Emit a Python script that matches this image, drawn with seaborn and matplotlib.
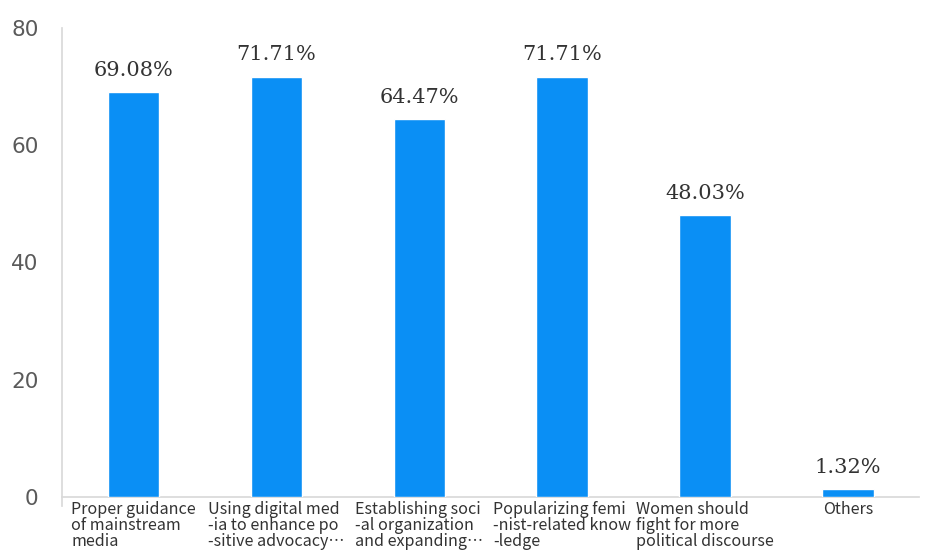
import matplotlib
matplotlib.use("Agg")
import matplotlib.pyplot as plt
import seaborn as sns
import pandas as pd

categories = [
    "Proper guidance\nof mainstream\nmedia",
    "Using digital med\n-ia to enhance po\n-sitive advocacy\u22ef",
    "Establishing soci\n-al organization\nand expanding\u22ef",
    "Popularizing femi\n-nist-related know\n-ledge",
    "Women should\nfight for more\npolitical discourse",
    "Others",
]
values = [69.08, 71.71, 64.47, 71.71, 48.03, 1.32]
value_labels = ["69.08%", "71.71%", "64.47%", "71.71%", "48.03%", "1.32%"]
y_ticks = [0, 20, 40, 60, 80]

sns.set_theme(style="white")
plt.rcParams["font.family"] = ["DejaVu Sans"]

df = pd.DataFrame({"cat": categories, "val": values})

fig = plt.figure(figsize=(9.28, 5.6), dpi=100)
ax = fig.add_axes([0.0668, 0.1125, 0.924, 0.8375])

sns.barplot(data=df, x="cat", y="val", color="#0a8ff5", saturation=1,
            width=0.36, ax=ax, zorder=3)

ax.set_ylim(0, 80)
ax.set_xlim(-0.5, len(categories) - 0.5)
ax.set_xlabel("")
ax.set_ylabel("")

# y axis
ax.set_yticks(y_ticks)
ax.set_yticklabels([str(t) for t in y_ticks], fontsize=15.5, color="#5a5a5a")
ax.tick_params(axis="y", length=0, pad=17)

# category boundaries as major ticks, labels at minor ticks
n = len(categories)
ax.set_xticks([i - 0.5 for i in range(n + 1)])
ax.set_xticklabels([""] * (n + 1))
ax.tick_params(axis="x", which="major", length=12, width=1, color="#d9d9d9")
ax.set_xticks(list(range(n)), minor=True)
ax.set_xticklabels(categories, minor=True, fontsize=11.6, color="#333333",
                   family=["Noto Sans CJK SC", "DejaVu Sans"], weight="medium",
                   linespacing=0.92, va="top", ha="center", multialignment="left")
ax.tick_params(axis="x", which="minor", length=0, pad=3)

for side in ["top", "right"]:
    ax.spines[side].set_visible(False)
ax.spines["left"].set_color("#d9d9d9")
ax.spines["bottom"].set_color("#d9d9d9")
ax.spines["left"].set_bounds(-1.6, 80)

for i, (v, lab) in enumerate(zip(values, value_labels)):
    ax.annotate(lab, xy=(i, v), xytext=(0, 9), textcoords="offset points",
                ha="center", va="bottom", fontsize=15, family="DejaVu Serif",
                color="#333333")

fig.savefig("out.png", dpi=100)
